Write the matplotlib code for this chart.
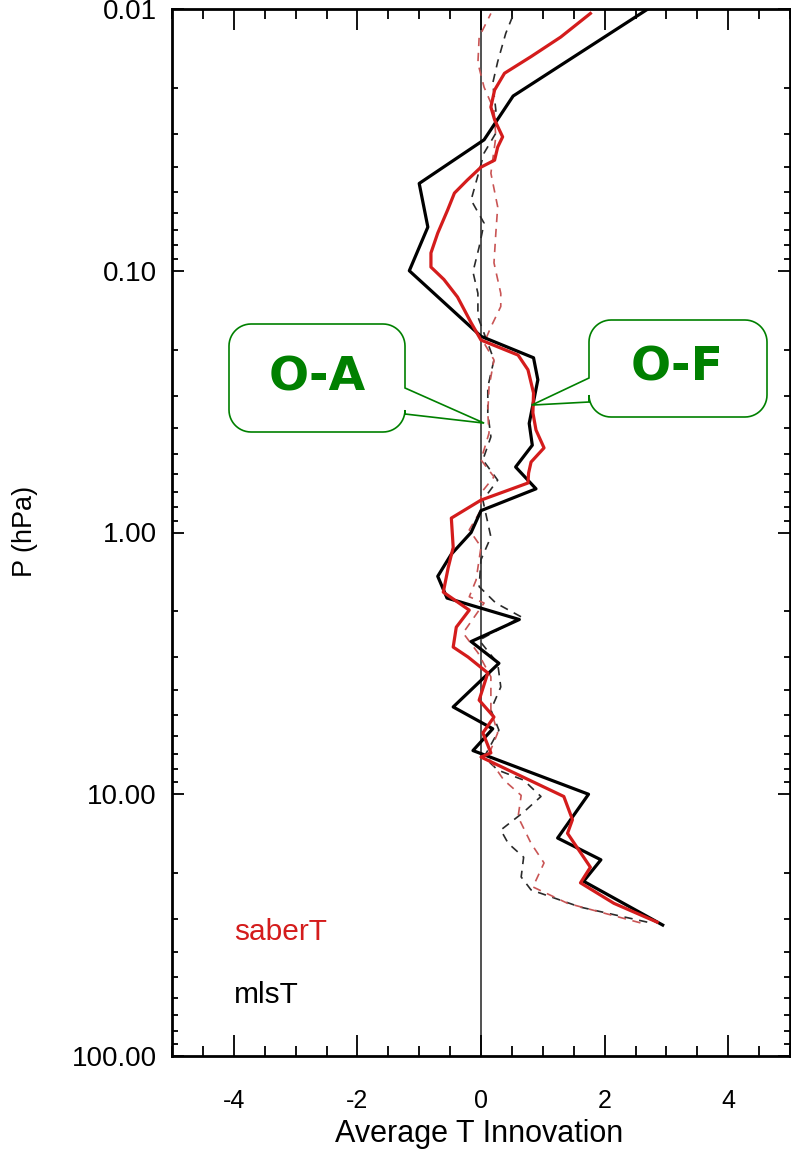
import numpy as np
import matplotlib
matplotlib.use("Agg")
import matplotlib.pyplot as plt
from matplotlib.patches import Polygon
from matplotlib.ticker import FixedLocator, MultipleLocator, LogLocator, NullFormatter

# ---- data: average temperature innovations (K) vs pressure (hPa) ----
series_names = ["saberT", "mlsT"]

# mlsT, observation minus forecast
mls_of_p = [31.6, 21.5, 17.8, 14.7, 10.0, 6.81, 5.62, 4.64, 3.16, 2.61, 2.15,
            1.78, 1.47, 1.21, 1.0, 0.825, 0.681, 0.562, 0.464, 0.383, 0.261,
            0.215, 0.178, 0.1, 0.0681, 0.0464, 0.0316, 0.0215, 0.01]
mls_of = [2.94, 1.66, 1.94, 1.24, 1.74, -0.13, 0.19, -0.45, 0.29, -0.16, 0.62,
          -0.55, -0.70, -0.48, -0.16, 0.0, 0.89, 0.56, 0.83, 0.78, 0.92,
          0.85, 0.0, -1.16, -0.86, -1.0, 0.05, 0.52, 2.7]

# saberT, observation minus forecast
saber_of_p = [30.8, 26.1, 21.8, 19.0, 14.1, 12.5, 10.2, 7.21, 6.95, 5.83, 5.07,
              4.37, 3.44, 2.99, 2.74, 2.30, 1.98, 1.69, 1.36, 1.14, 0.881,
              0.752, 0.647, 0.593, 0.538, 0.475, 0.406, 0.349, 0.293, 0.239,
              0.210, 0.184, 0.158, 0.126, 0.108, 0.0968, 0.0855, 0.0718,
              0.0586, 0.0505, 0.045, 0.0402, 0.0378, 0.0337, 0.0308, 0.0265,
              0.0237, 0.0204, 0.0176, 0.0152, 0.0128, 0.0104]
saber_of = [2.85, 2.15, 1.61, 1.77, 1.40, 1.48, 1.34, 0.0, 0.16, 0.03, 0.21,
            -0.03, 0.11, -0.21, -0.45, -0.40, -0.19, -0.61, -0.53, -0.45, -0.48,
            0.0, 0.76, 0.77, 0.81, 1.02, 0.89, 0.84, 0.85, 0.76,
            0.6, 0.0, -0.16, -0.38, -0.6, -0.81, -0.81, -0.70,
            -0.54, -0.43, -0.22, 0.0, 0.22, 0.27, 0.35, 0.22,
            0.16, 0.22, 0.38, 0.81, 1.29, 1.77]

# mlsT, observation minus analysis
mls_oa_p = [30.8, 27.0, 23.2, 20.7, 17.4, 15.4, 13.7, 11.7, 10.2, 8.83, 8.08,
            7.21, 5.69, 4.76, 3.89, 3.16, 2.58, 2.10, 1.86, 1.61, 1.27, 1.04,
            0.752, 0.631, 0.528, 0.431, 0.349, 0.278, 0.219, 0.150, 0.122,
            0.101, 0.0811, 0.0658, 0.0537, 0.0355, 0.0298, 0.0243, 0.0192,
            0.0159, 0.0124, 0.0104]
mls_oa = [2.69, 1.61, 0.81, 0.65, 0.69, 0.44, 0.32, 0.69, 0.97, 0.69, 0.27,
          0.05, 0.29, 0.16, 0.32, 0.27, -0.03, 0.65, 0.24, -0.03, 0.0, 0.16,
          0.03, 0.27, 0.03, 0.16, 0.11, 0.11, 0.21, -0.05, -0.05,
          -0.13, -0.03, 0.05, -0.16, 0.05, 0.24, 0.24, 0.19,
          0.27, 0.40, 0.53]

# saberT, observation minus analysis
saber_oa_p = [31.0, 26.1, 22.6, 18.3, 15.4, 12.2, 10.1, 8.83, 7.21, 5.83, 4.76,
              3.56, 2.88, 2.42, 1.86, 1.76, 1.52, 1.135, 0.977, 0.82, 0.706,
              0.613, 0.528, 0.417, 0.349, 0.278, 0.219, 0.189, 0.164, 0.137,
              0.122, 0.0933, 0.0718, 0.057, 0.0424, 0.0308, 0.0243, 0.0199,
              0.0161, 0.0128, 0.0104]
saber_oa = [2.58, 1.40, 0.84, 1.02, 0.81, 0.60, 0.65, 0.37, 0.11, 0.27, 0.16,
            0.16, -0.05, -0.29, 0.05, -0.19, -0.08, 0.0, -0.19, 0.0, 0.0,
            0.21, 0.0, 0.13, 0.11, 0.13, 0.21, 0.05, 0.16, 0.32,
            0.32, 0.21, 0.24, 0.27, 0.16, 0.24, 0.21, 0.05,
            -0.05, -0.03, 0.16]

y_ticks = [0.01, 0.1, 1.0, 10.0, 100.0]
y_ticklabels = ["0.01", "0.10", "1.00", "10.00", "100.00"]
x_ticks = [-4, -2, 0, 2, 4]

RED = "#d41c1c"
RED_DASH = "#c95555"
GREEN = "#008000"

plt.rcParams["font.family"] = ["Liberation Sans", "DejaVu Sans"]
plt.rcParams["axes.unicode_minus"] = False

W, H = 791, 1157
fig = plt.figure(figsize=(W / 100, H / 100), dpi=100)
ax = fig.add_axes([172 / W, 1 - 1056 / H, (790 - 172) / W, (1056 - 9) / H])

ax.set_yscale("log")
ax.set_ylim(100, 0.01)
ax.set_xlim(-5, 5)

# zero reference
ax.axvline(0, color="#333333", lw=1.2, zorder=1)

# analysis departures (thin dashed)
ax.plot(mls_oa, mls_oa_p, color="#2a2a2a", lw=1.2, dashes=(5, 4), zorder=2)
ax.plot(saber_oa, saber_oa_p, color=RED_DASH, lw=1.2, dashes=(5, 4), zorder=2)
# forecast departures (thick solid)
ax.plot(mls_of, mls_of_p, color="black", lw=2.3, zorder=3)
ax.plot(saber_of, saber_of_p, color=RED, lw=2.3, zorder=4)

# ticks
ax.yaxis.set_major_locator(FixedLocator(y_ticks))
ax.set_yticklabels(y_ticklabels)
ax.yaxis.set_minor_locator(LogLocator(base=10, subs=np.arange(2, 10)))
ax.yaxis.set_minor_formatter(NullFormatter())
ax.xaxis.set_major_locator(FixedLocator(x_ticks))
ax.xaxis.set_minor_locator(MultipleLocator(0.5))

ax.tick_params(axis="x", which="major", direction="in", length=15, width=1.3,
               top=True, bottom=True, pad=24, labelsize=18)
ax.tick_params(axis="x", which="minor", direction="in", length=7.5, width=1.3,
               top=True, bottom=True)
ax.tick_params(axis="y", which="major", direction="in", length=8.5, width=1.3,
               left=True, right=True, pad=11, labelsize=20)
ax.tick_params(axis="y", which="minor", direction="in", length=4, width=1.3,
               left=True, right=True)
for lbl in ax.get_xticklabels() + ax.get_yticklabels():
    lbl.set_fontweight("medium")
for s in ax.spines.values():
    s.set_linewidth(2)

fig.text(479 / W, 1 - 1134 / H, "Average T Innovation", ha="center",
         va="center", fontsize=22)
fig.text(25 / W, 1 - 531 / H, "P (hPa)", ha="center", va="center",
         rotation=90, fontsize=19.5)

# series labels
ax.text(-4.0, 33.6, series_names[0], color=RED, fontsize=21.5, va="center",
        ha="left")
ax.text(-4.0, 58.5, series_names[1], color="black", fontsize=21.5,
        va="center", ha="left")

# callouts drawn in pixel space on a full-figure overlay
ov = fig.add_axes([0, 0, 1, 1], zorder=5)
ov.set_xlim(0, W)
ov.set_ylim(H, 0)
ov.axis("off")


def to_overlay(x, p):
    dx, dy = ax.transData.transform((x, p))
    return dx, H - dy


def callout(x0, y0, x1, y1, r, side, bt, bb, tip):
    pts = []

    def arc(cx, cy, a0, a1):
        for a in np.linspace(np.radians(a0), np.radians(a1), 14):
            pts.append((cx + r * np.cos(a), cy + r * np.sin(a)))

    arc(x0 + r, y0 + r, 180, 270)
    arc(x1 - r, y0 + r, 270, 360)
    if side == "right":
        pts.extend([(x1, bt), tip, (x1, bb)])
    arc(x1 - r, y1 - r, 0, 90)
    arc(x0 + r, y1 - r, 90, 180)
    if side == "left":
        pts.extend([(x0, bb), tip, (x0, bt)])
    return pts


oa_tip = to_overlay(0.05, 0.382)
of_tip = to_overlay(0.82, 0.326)

ov.add_patch(Polygon(callout(229, 324, 405, 432, 22, "right", 388, 414, oa_tip),
                     closed=True, fc="white", ec=GREEN, lw=1.2))
ov.add_patch(Polygon(callout(589, 320, 767, 417, 22, "left", 378, 402, of_tip),
                     closed=True, fc="white", ec=GREEN, lw=1.2))
ov.text(317, 378, "O-A", color=GREEN, fontsize=34, fontweight="bold",
        family="DejaVu Sans", ha="center", va="center")
ov.text(677, 368, "O-F", color=GREEN, fontsize=34, fontweight="bold",
        family="DejaVu Sans", ha="center", va="center")

fig.savefig("out.png", dpi=100, facecolor="white")
